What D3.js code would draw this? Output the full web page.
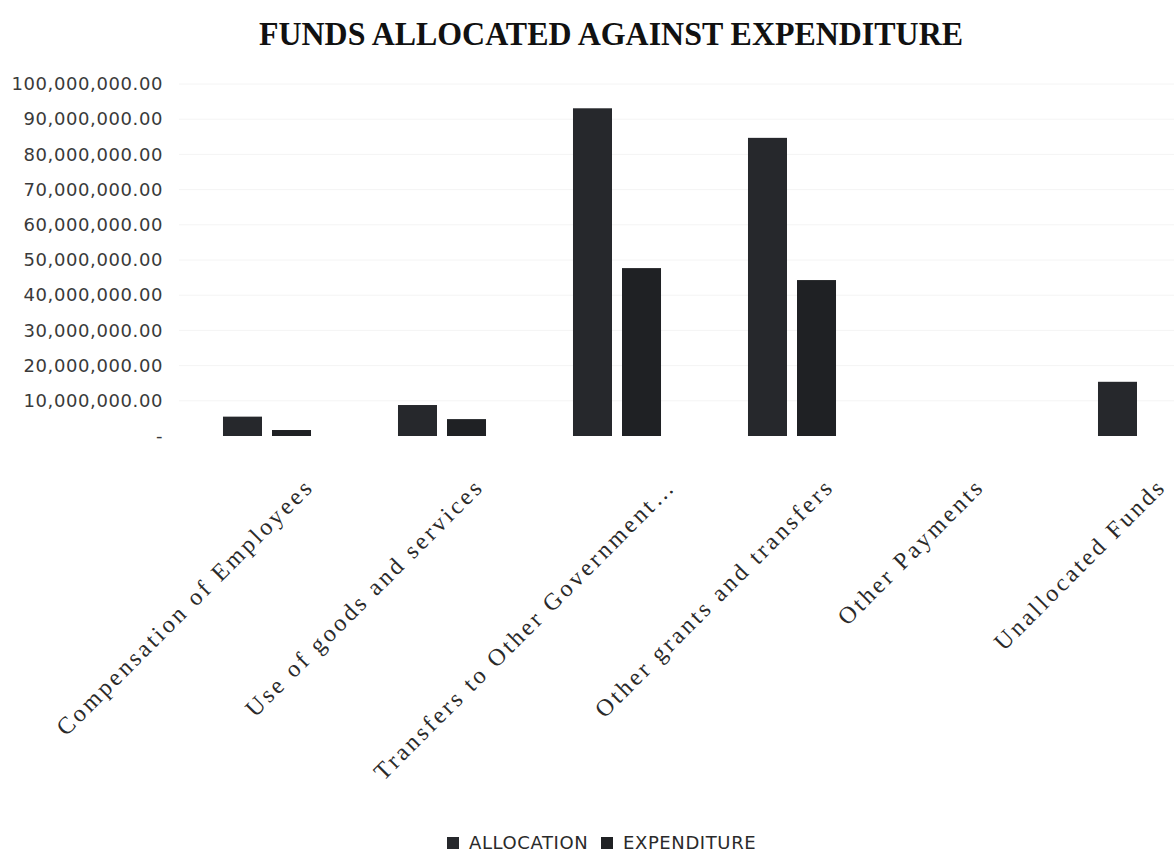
<!DOCTYPE html>
<html>
<head>
<meta charset="utf-8">
<script src="https://cdn.jsdelivr.net/npm/d3@7"></script>
<style>
  body { margin: 0; background: #fff; }
  svg { display: block; }
</style>
</head>
<body>
<div id="chart"></div>
<script>
// data
let categories = ["Compensation of Employees", "Use of goods and services",
    "Transfers to Other Government\u2026", "Other grants and transfers",
    "Other Payments", "Unallocated Funds"];
let seriesNames = ["ALLOCATION", "EXPENDITURE"];
let allocation = [5500000, 8800000, 93100000, 84700000, 0, 15400000];
let expenditure = [1700000, 4800000, 47700000, 44300000, 0, 0];
let yTickValues = [0, 10000000, 20000000, 30000000, 40000000, 50000000,
    60000000, 70000000, 80000000, 90000000, 100000000];

let width = 1174, height = 854;

let svg = d3.select("#chart")
    .append("svg")
    .attr("width", width)
    .attr("height", height);

// title
svg.append("text")
    .attr("x", 611)
    .attr("y", 45)
    .attr("text-anchor", "middle")
    .attr("textLength", 704)
    .attr("lengthAdjust", "spacingAndGlyphs")
    .style("font-family", "'Liberation Serif', serif")
    .style("font-weight", "bold")
    .style("font-size", "34px")
    .style("fill", "#111")
    .text("FUNDS ALLOCATED AGAINST EXPENDITURE");

// scales - plot area runs past the right edge like the scan
let x0 = d3.scaleBand()
    .domain(categories)
    .range([179.5, 1229.5])
    .paddingInner(0.497)
    .paddingOuter(0.2485);

let x1 = d3.scaleBand()
    .domain(seriesNames)
    .range([0, x0.bandwidth()])
    .paddingInner(0.204);

let y = d3.scaleLinear()
    .domain([0, 100000000])
    .range([436, 84]);

// faint gridlines (barely visible in the scan)
svg.append("g")
    .selectAll("line")
    .data(yTickValues.slice(1))
    .enter()
    .append("line")
    .attr("x1", 179)
    .attr("x2", width)
    .attr("y1", d => y(d))
    .attr("y2", d => y(d))
    .attr("stroke", "#f4f4f4")
    .attr("stroke-width", 1);

// y axis labels (no axis line)
let fmt = d3.format(",.2f");
let yAxis = svg.append("g")
    .attr("transform", "translate(167,0)")
    .call(d3.axisLeft(y)
        .tickValues(yTickValues)
        .tickSize(0)
        .tickPadding(4)
        .tickFormat(d => d === 0 ? "-" : fmt(d)));
yAxis.select(".domain").remove();
yAxis.selectAll("text")
    .style("font-family", "'DejaVu Sans', sans-serif")
    .style("font-size", "18px")
    .style("letter-spacing", "0.6px")
    .style("fill", "#3a3a3a");

// bars
let rows = categories.map((c, i) => ({cat: c, values: [allocation[i], expenditure[i]]}));
let barColor = ["#26282c", "#1f2124"];

svg.append("g")
    .selectAll("g")
    .data(rows)
    .enter()
    .append("g")
    .attr("transform", d => "translate(" + x0(d.cat) + ",0)")
    .selectAll("rect")
    .data(d => d.values.map((v, j) => ({name: seriesNames[j], value: v, j: j})))
    .enter()
    .append("rect")
    .filter(d => d.value > 0)
    .attr("x", d => x1(d.name))
    .attr("y", d => y(d.value))
    .attr("width", x1.bandwidth())
    .attr("height", d => y(0) - y(d.value))
    .attr("fill", d => barColor[d.j]);

// rotated category labels
let labels = svg.append("g")
    .selectAll("text")
    .data(categories)
    .enter()
    .append("text")
    .attr("text-anchor", "end")
    .style("font-family", "'Liberation Serif', serif")
    .style("font-size", "24px")
    .style("letter-spacing", "3px")
    .style("fill", "#2a2a2a")
    .text(d => d);

// longer labels sit a bit further right in the scan
labels.attr("transform", function(d) {
    let w = this.getComputedTextLength();
    let cx = x0(d) + x0.bandwidth() / 2;
    return "translate(" + (cx - 18 + 0.188 * w) + ",488) rotate(-45)";
});

// legend
let legend = svg.append("g").attr("transform", "translate(447,836)");
let legX = [0, 154];
legend.selectAll("rect")
    .data(seriesNames)
    .enter()
    .append("rect")
    .attr("x", (d, i) => legX[i])
    .attr("y", 1)
    .attr("width", 12)
    .attr("height", 12)
    .attr("fill", (d, i) => barColor[i]);

legend.selectAll("text")
    .data(seriesNames)
    .enter()
    .append("text")
    .attr("x", (d, i) => legX[i] + 22)
    .attr("y", 13)
    .style("font-family", "'DejaVu Sans', sans-serif")
    .style("font-size", "18px")
    .style("letter-spacing", "0.6px")
    .style("fill", "#2a2a2a")
    .text(d => d);
</script>
</body>
</html>
